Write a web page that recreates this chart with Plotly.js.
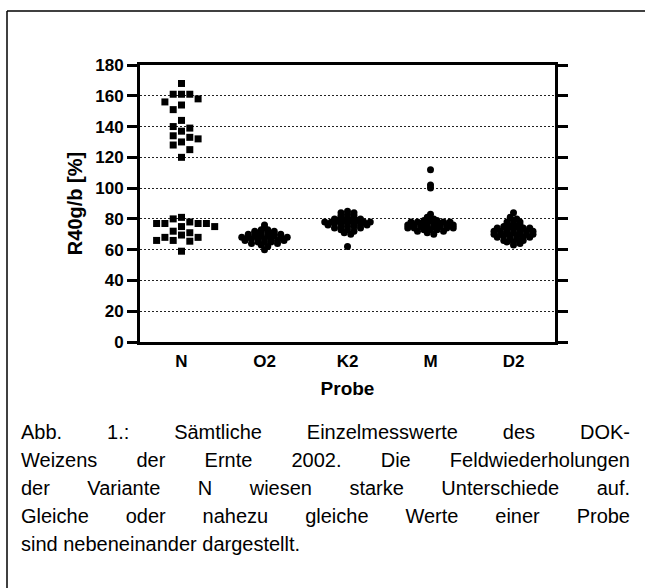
<!DOCTYPE html>
<html><head><meta charset="utf-8">
<script src="https://cdn.plot.ly/plotly-3.0.1.min.js"></script>
<style>html,body{margin:0;padding:0;background:#fff}#chart{width:645px;height:588px}</style>
</head><body><div id="chart"></div>
<script>
// ---------- data ----------
const categories = ['N', 'O2', 'K2', 'M', 'D2'];
const valuesN = [168, 161, 161, 161, 158, 156, 154, 151, 144, 140, 139, 137, 134, 133, 132, 130, 128, 125, 120,
  81, 80, 78, 77, 77, 77, 77, 75, 75, 72, 71, 69.5, 68, 68, 66, 66, 65.5, 59];
const valuesO2 = [76, 74, 73, 73, 72, 72, 71, 71, 71, 70, 70, 70, 69, 69, 69, 69, 68, 68, 68, 68,
  67, 67, 67, 67, 66, 66, 66, 65, 65, 65, 64, 64, 63, 62, 60];
const valuesK2 = [85, 84, 84, 83, 82, 82, 81, 81, 80, 80, 80, 79, 79, 79, 79, 78, 78, 78, 78, 77, 77, 77,
  77, 76, 76, 76, 75, 75, 75, 74, 74, 73, 73, 72, 71, 70, 62];
const valuesM = [112, 102, 100, 83, 81, 80, 79, 79, 79, 78, 78, 78, 78, 77, 77, 77, 77, 76, 76, 76, 76,
  75, 75, 75, 75, 74, 74, 74, 74, 73, 73, 73, 72, 72, 71, 70];
const valuesD2 = [84, 81, 80, 79, 78, 78, 77, 76, 76, 75, 75, 75, 74, 74, 74, 73, 73, 73, 72, 72, 72, 72, 71, 71,
  71, 70, 70, 70, 70, 69, 69, 69, 68, 68, 68, 67, 67, 66, 66, 65, 65, 64, 63];
const yTickValues = [0, 20, 40, 60, 80, 100, 120, 140, 160, 180];
const yTitle = 'R40g/b [%]';
const xTitle = 'Probe';
const captionLines = [
  'Abb. 1.: Sämtliche Einzelmesswerte des DOK-',
  'Weizens der Ernte 2002. Die Feldwiederholungen',
  'der Variante N wiesen starke Unterschiede auf.',
  'Gleiche oder nahezu gleiche Werte einer Probe',
  'sind nebeneinander dargestellt.'
];

// ---------- layout geometry (pixels) ----------
const W = 645, H = 588;
const L = 140, R = 555, T = 65, B = 342;
const xRange = [-0.5, 4.5], yRange = [0, 180];
const pxPerX = (R - L) / (xRange[1] - xRange[0]);
const pxPerY = (B - T) / (yRange[1] - yRange[0]);
const px2paperX = p => (p - L) / (R - L);
const px2paperY = p => (B - p) / (B - T);

// slot-based beeswarm (used for the sparse N group)
function swarm(values, center, slotPx, minDyPx) {
  const order = values.map((v, i) => i).sort((a, b) => values[b] - values[a]);
  const placed = [];
  const xs = new Array(values.length);
  for (const i of order) {
    const y = values[i] * pxPerY;
    let k = 0, slot = null;
    while (slot === null) {
      const cands = k === 0 ? [0] : (k % 2 ? [-k, k] : [k, -k]);
      for (const s of cands) {
        if (!placed.some(p => p.s === s && Math.abs(p.y - y) < minDyPx)) { slot = s; break; }
      }
      k++;
    }
    placed.push({ s: slot, y: y });
    xs[i] = center + slot * slotPx / pxPerX;
  }
  return xs;
}

// row layout for dense groups: near-equal values (same bin) side by side, centred
function rows(values, center, binW, slotPx) {
  const bins = {};
  values.forEach((v, i) => { const b = Math.floor(v / binW); (bins[b] = bins[b] || []).push(i); });
  const xs = new Array(values.length);
  Object.values(bins).forEach(idx => {
    idx.sort((a, b) => values[b] - values[a]);
    const n = idx.length;
    const pos = [];
    for (let j = 0; j < n; j++) pos.push(j - (n - 1) / 2);
    pos.sort((a, b) => Math.abs(a) - Math.abs(b) || a - b);
    idx.forEach((i, j) => { xs[i] = center + pos[j] * slotPx / pxPerX; });
  });
  return xs;
}

const groups = [valuesN, valuesO2, valuesK2, valuesM, valuesD2];
const traces = groups.map((vals, gi) => {
  const isN = gi === 0;
  return {
    type: 'scatter', mode: 'markers',
    x: isN ? swarm(vals, gi, 8.3, 8) : rows(vals, gi, 2, 6.5),
    y: vals,
    name: categories[gi],
    marker: { symbol: isN ? 'square' : 'circle', size: 7, color: '#000' },
    hoverinfo: 'y', showlegend: false, cliponaxis: false
  };
});

const fontFam = 'Liberation Sans, Arial, sans-serif';
const annotations = captionLines.map((t, i) => ({
  text: t, xref: 'paper', yref: 'paper',
  x: px2paperX(19), y: px2paperY(432 + i * 28),
  xanchor: 'left', yanchor: 'middle', align: 'left', showarrow: false,
  font: { family: fontFam, size: 20, color: '#000' }
}));

const layout = {
  width: W, height: H,
  margin: { l: L, r: W - R, t: T, b: H - B },
  paper_bgcolor: '#fff', plot_bgcolor: '#fff',
  showlegend: false,
  xaxis: {
    range: xRange, tickmode: 'array', tickvals: [0, 1, 2, 3, 4], ticktext: categories,
    showgrid: false, zeroline: false, showline: true, linewidth: 3, linecolor: '#000', mirror: true,
    ticks: '', ticklabelstandoff: 2,
    tickfont: { family: fontFam, size: 17, color: '#000', weight: 'bold' },
    title: { text: xTitle, standoff: 12, font: { family: fontFam, size: 19, color: '#000', weight: 'bold' } },
    fixedrange: true
  },
  yaxis: {
    range: yRange, tickmode: 'array', tickvals: yTickValues,
    showgrid: true, gridcolor: '#222', gridwidth: 1, griddash: '2px,2px',
    zeroline: false, showline: true, linewidth: 3, linecolor: '#000', mirror: 'ticks',
    ticks: 'outside', ticklen: 10, tickwidth: 3, tickcolor: '#000',
    tickfont: { family: fontFam, size: 17, color: '#000', weight: 'bold' },
    title: { text: yTitle, standoff: 8, font: { family: fontFam, size: 20, color: '#000', weight: 'bold' } },
    fixedrange: true
  },
  shapes: [
    { type: 'line', xref: 'paper', yref: 'paper', layer: 'below',
      x0: px2paperX(7), y0: px2paperY(11), x1: px2paperX(W + 5), y1: px2paperY(11),
      line: { color: '#000', width: 1.5 } },
    { type: 'line', xref: 'paper', yref: 'paper', layer: 'below',
      x0: px2paperX(7), y0: px2paperY(11), x1: px2paperX(7), y1: px2paperY(H + 5),
      line: { color: '#000', width: 1.5 } }
  ],
  annotations: annotations
};

Plotly.newPlot('chart', traces, layout, { displayModeBar: false, staticPlot: true }).then(() => {
  // justify the first four caption lines like the original block text
  const targetW = 628 - 19;
  const texts = document.querySelectorAll('#chart .annotation-text');
  texts.forEach((el, i) => {
    if (i >= captionLines.length - 1) return;
    const spaces = (captionLines[i].match(/ /g) || []).length;
    const len = el.getComputedTextLength();
    if (spaces > 0 && len < targetW) el.style.wordSpacing = ((targetW - len) / spaces) + 'px';
  });
});
</script>
</body></html>
